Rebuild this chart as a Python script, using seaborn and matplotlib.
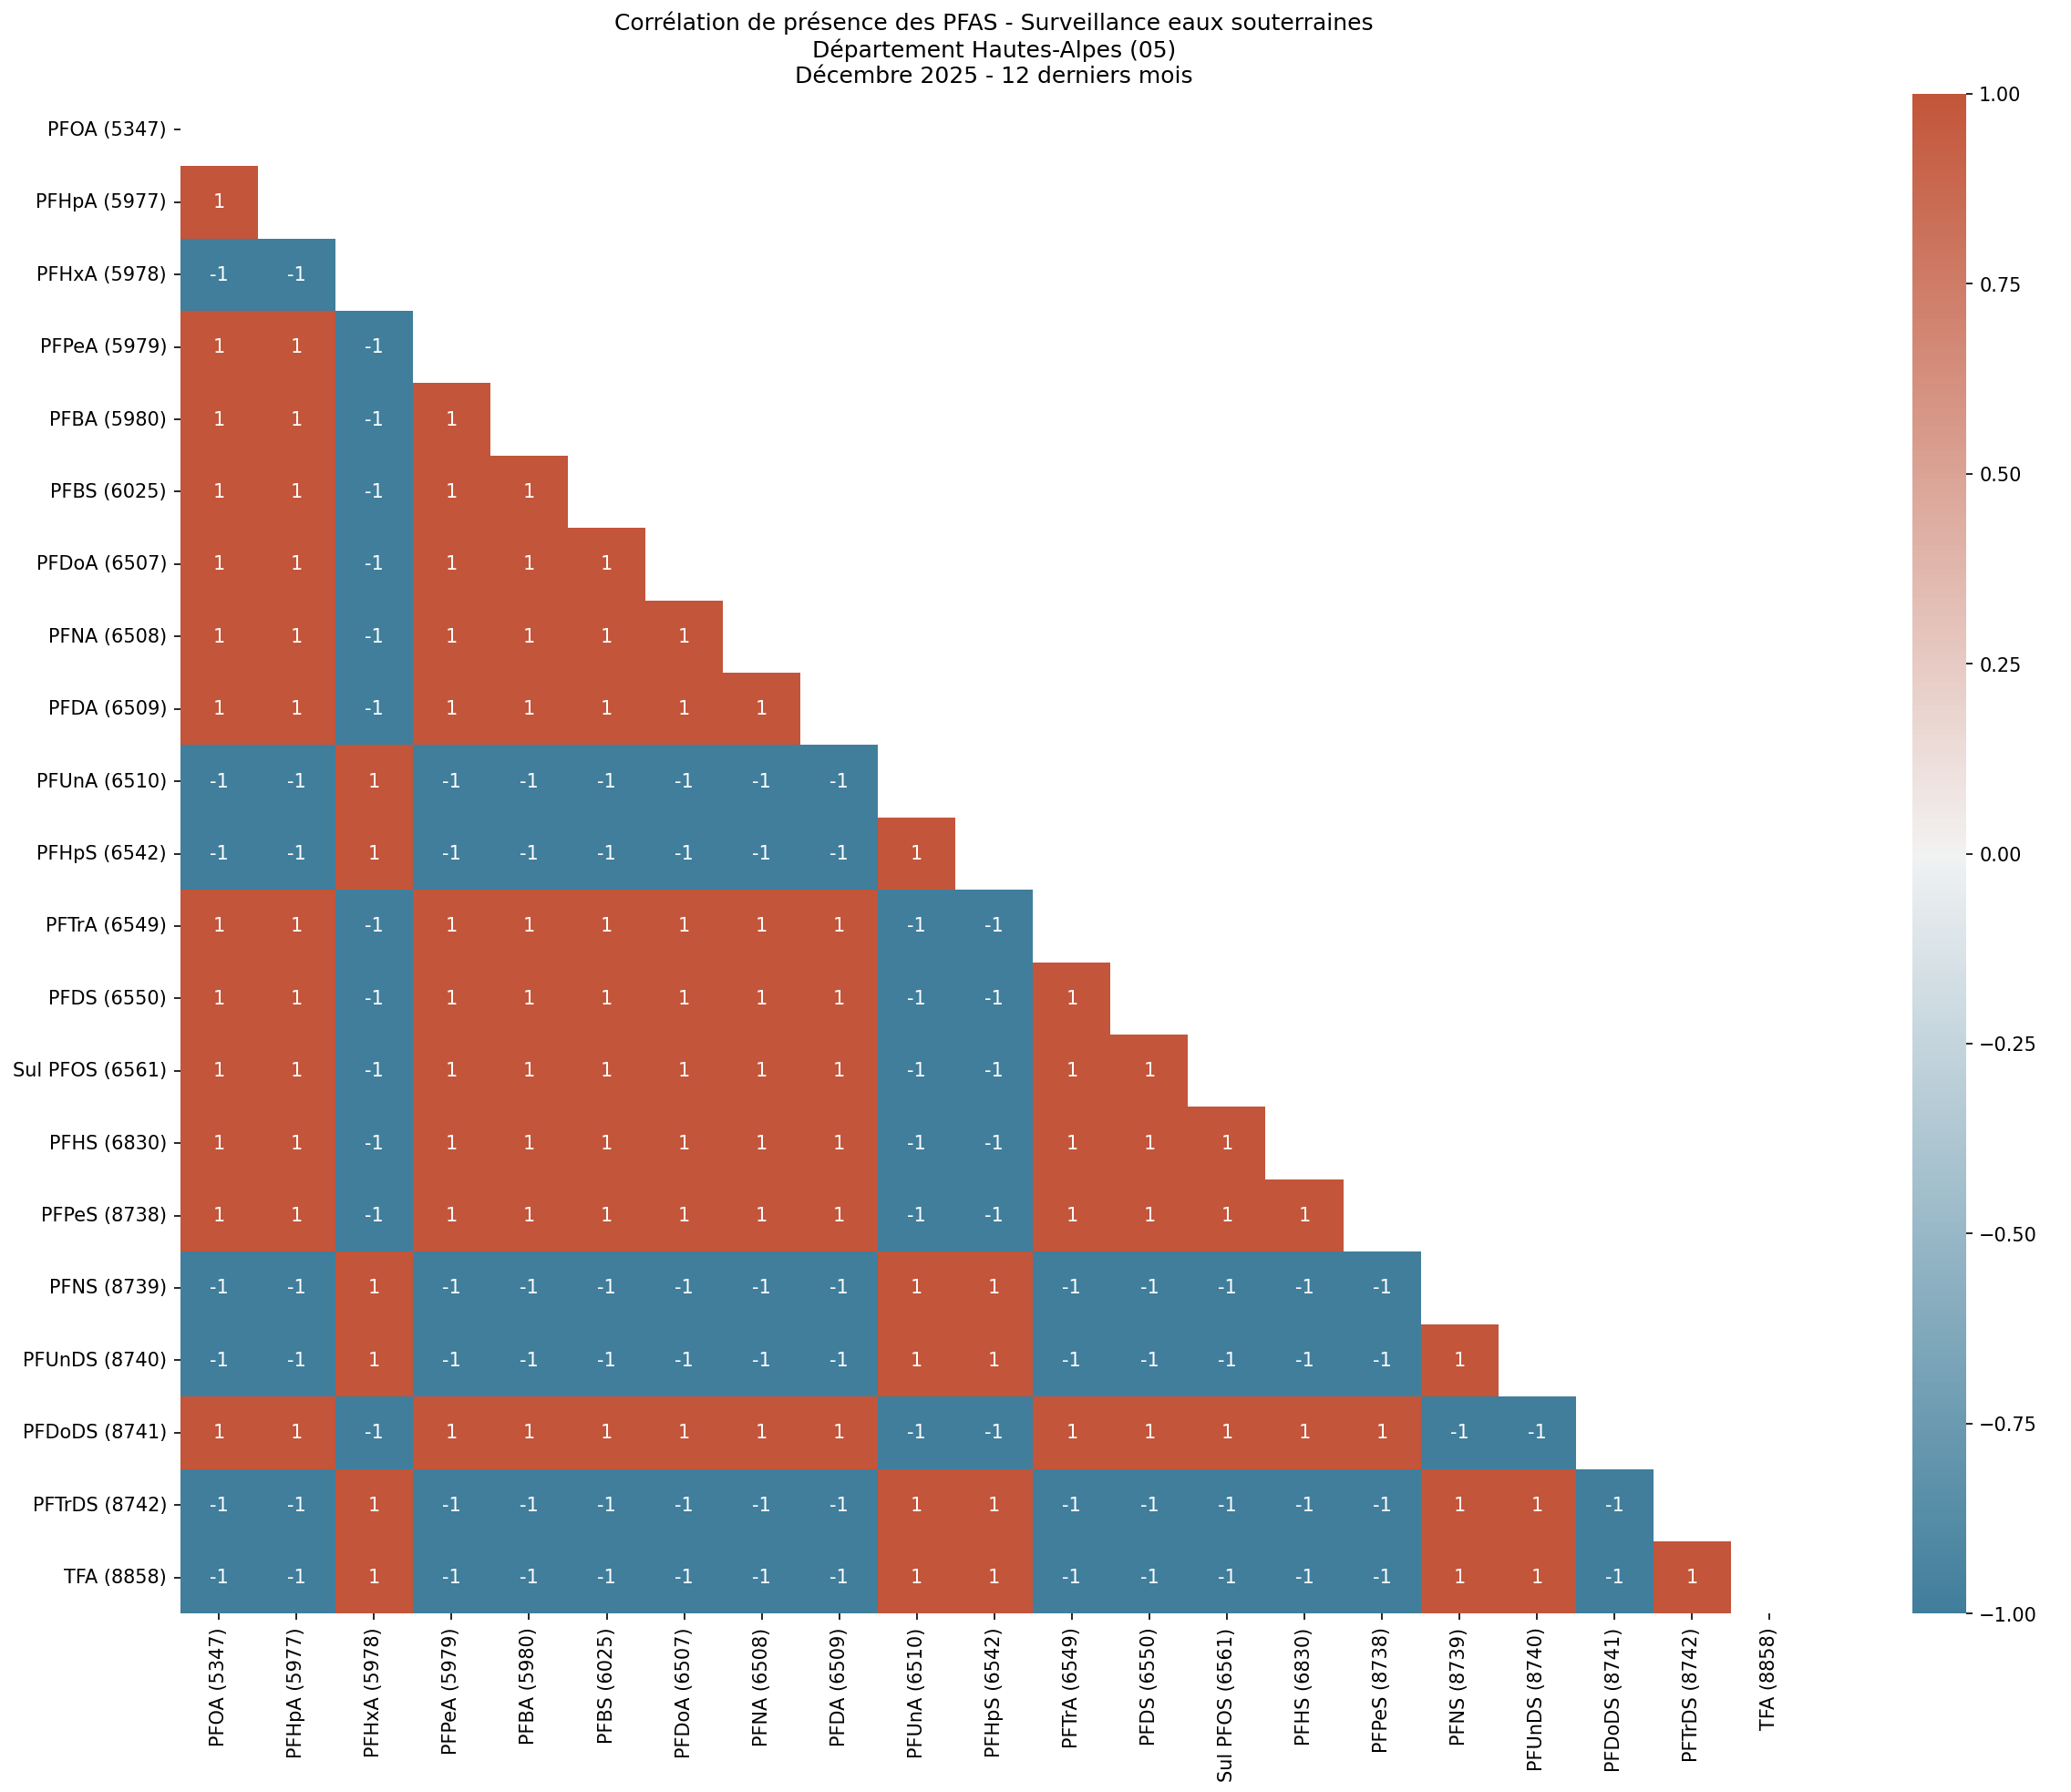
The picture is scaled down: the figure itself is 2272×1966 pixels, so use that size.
import numpy as np
import pandas as pd
import seaborn as sns
import matplotlib.pyplot as plt

labels = ["PFOA (5347)", "PFHpA (5977)", "PFHxA (5978)", "PFPeA (5979)", "PFBA (5980)",
          "PFBS (6025)", "PFDoA (6507)", "PFNA (6508)", "PFDA (6509)", "PFUnA (6510)",
          "PFHpS (6542)", "PFTrA (6549)", "PFDS (6550)", "Sul PFOS (6561)", "PFHS (6830)",
          "PFPeS (8738)", "PFNS (8739)", "PFUnDS (8740)", "PFDoDS (8741)", "PFTrDS (8742)",
          "TFA (8858)"]

# lower triangle rows (row i, columns 0..i-1)
lower_rows = [
    [],
    [1],
    [-1, -1],
    [1, 1, -1],
    [1, 1, -1, 1],
    [1, 1, -1, 1, 1],
    [1, 1, -1, 1, 1, 1],
    [1, 1, -1, 1, 1, 1, 1],
    [1, 1, -1, 1, 1, 1, 1, 1],
    [-1, -1, 1, -1, -1, -1, -1, -1, -1],
    [-1, -1, 1, -1, -1, -1, -1, -1, -1, 1],
    [1, 1, -1, 1, 1, 1, 1, 1, 1, -1, -1],
    [1, 1, -1, 1, 1, 1, 1, 1, 1, -1, -1, 1],
    [1, 1, -1, 1, 1, 1, 1, 1, 1, -1, -1, 1, 1],
    [1, 1, -1, 1, 1, 1, 1, 1, 1, -1, -1, 1, 1, 1],
    [1, 1, -1, 1, 1, 1, 1, 1, 1, -1, -1, 1, 1, 1, 1],
    [-1, -1, 1, -1, -1, -1, -1, -1, -1, 1, 1, -1, -1, -1, -1, -1],
    [-1, -1, 1, -1, -1, -1, -1, -1, -1, 1, 1, -1, -1, -1, -1, -1, 1],
    [1, 1, -1, 1, 1, 1, 1, 1, 1, -1, -1, 1, 1, 1, 1, 1, -1, -1],
    [-1, -1, 1, -1, -1, -1, -1, -1, -1, 1, 1, -1, -1, -1, -1, -1, 1, 1, -1],
    [-1, -1, 1, -1, -1, -1, -1, -1, -1, 1, 1, -1, -1, -1, -1, -1, 1, 1, -1, 1],
]

n = len(labels)
corr = np.full((n, n), np.nan)
for i, row in enumerate(lower_rows):
    for j, v in enumerate(row):
        corr[i, j] = v
        corr[j, i] = v
np.fill_diagonal(corr, 1.0)
corr = pd.DataFrame(corr, index=labels, columns=labels)

mask = np.triu(np.ones_like(corr, dtype=bool))
cmap = sns.diverging_palette(230, 20, as_cmap=True)

fig = plt.figure(figsize=(15.15, 13.11))
ax = fig.add_axes([0.087, 0.0995, 0.786, 0.848])
cax = fig.add_axes([0.923, 0.0995, 0.026, 0.848])
sns.heatmap(corr, mask=mask, cmap=cmap, vmin=-1, vmax=1, center=0,
            annot=True, ax=ax, cbar_ax=cax)
ax.set_title("Corrélation de présence des PFAS - Surveillance eaux souterraines\n"
             "Département Hautes-Alpes (05)\nDécembre 2025 - 12 derniers mois")
plt.savefig("out.png", dpi=150)
